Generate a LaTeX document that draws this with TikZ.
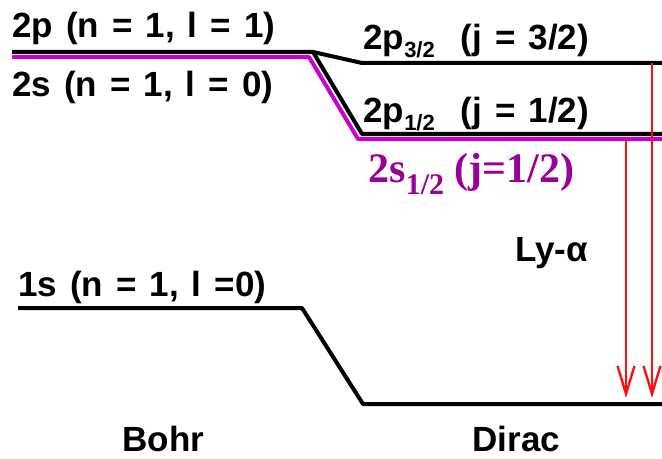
\documentclass[tikz,border=0pt]{standalone}
\usepackage{fontspec}
\setsansfont{Liberation Sans}
\newfontfamily\timesbf{Liberation Serif}
\usepackage{tikz}
\usetikzlibrary{arrows.meta}
\definecolor{LvMagenta}{HTML}{CC00CC}
\definecolor{LvPurple}{HTML}{990099}
\definecolor{LvRed}{HTML}{FF1010}
\newcommand{\lvfont}{\sffamily\bfseries\fontsize{17.5}{21}\selectfont\spaceskip=6.5pt\relax}
\newcommand{\lvsub}[1]{\raisebox{-4pt}{\fontsize{11}{13}\selectfont #1}}
\newcommand{\lsssub}[1]{\raisebox{-6pt}{\fontsize{15}{17}\selectfont #1}}

\begin{document}
\begin{tikzpicture}[
  x=0.5pt, y=-0.5pt,
  level/.style={draw=black, line width=2pt, line join=round},
  shifted/.style={draw=LvMagenta, line width=2pt, line join=round},
  label/.style={anchor=base west, inner sep=0pt, font=\lvfont},
  purplelabel/.style={anchor=base west, inner sep=0pt, text=LvPurple, font=\timesbf\bfseries\fontsize{21}{25}\selectfont},
  lyman/.style={draw=LvRed, line width=1.2pt, -{Straight Barb[length=14pt,width=8.5pt,line width=1.2pt]}, shorten >=3pt}
]
\useasboundingbox (0,0) rectangle (662,459);

% level end points
\coordinate (bohrtwo) at (12,52);
\coordinate (split) at (313,52);
\coordinate (pthree) at (362,63);
\coordinate (pthreeend) at (662,63);
\coordinate (pone) at (362,134);
\coordinate (poneend) at (662,134);
\coordinate (bohrone) at (18,308);
\coordinate (bend) at (302,308);
\coordinate (dirone) at (363,404);
\coordinate (dironeend) at (662,404);
\coordinate (topfoot) at (652,404);
\coordinate (lowfoot) at (626,404);
\coordinate (toptop) at (652,63);
\coordinate (lowtop) at (626,139);

% 2s levels (magenta, drawn under)
\draw[shifted] (12,57) -- (309,57) -- (358,139) -- (662,139);

% n = 2 levels
\draw[level] (bohrtwo) -- (split) -- (pthree) -- (pthreeend);
\draw[level] (split) -- (pone) -- (poneend);

% n = 1 level
\draw[level] (bohrone) -- (bend) -- (dirone) -- (dironeend);

% Lyman alpha lines
\draw[lyman] (lowtop) -- (lowfoot);
\draw[lyman] (toptop) -- (topfoot);

% labels
\node[label] (ltwop) at (12,38) {2p (n = 1, l = 1)};
\node[label] (ltwos) at (12,97) {2s (n = 1, l = 0)};
\node[label] (lpthree) at (363,50) {2p\lvsub{3/2}\ \ (j = 3/2)};
\node[label] (lpone) at (363,123) {2p\lvsub{1/2}\ \ (j = 1/2)};
\node[purplelabel] (lsone) at (368,183) {2s\lsssub{1/2} (j=1/2)};
\node[label] (lly) at (515,262) {Ly-α};
\node[label] (lones) at (18,296) {1s (n = 1, l =0)};
\node[label] (lbohr) at (122,451) {Bohr};
\node[label] (ldirac) at (472,451) {Dirac};
\end{tikzpicture}
\end{document}
